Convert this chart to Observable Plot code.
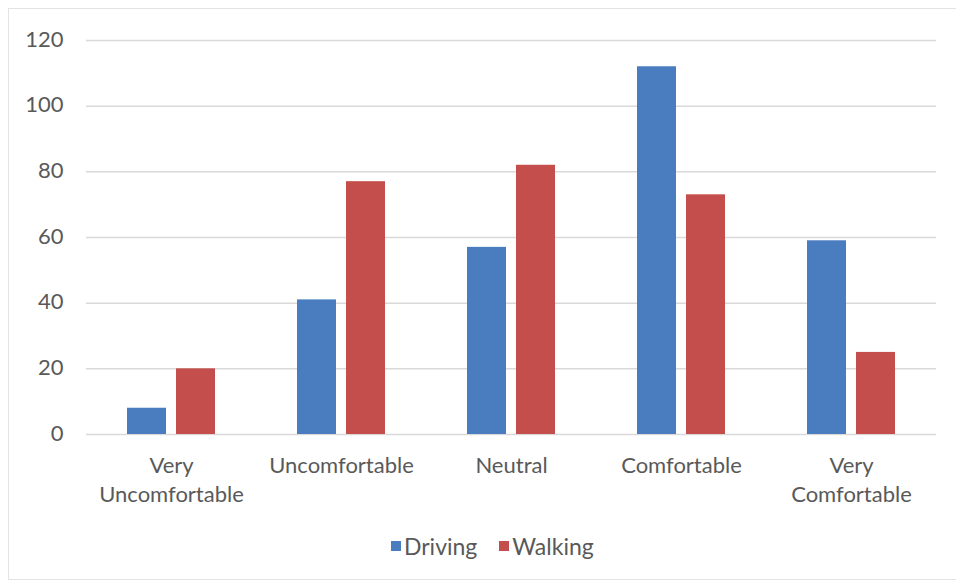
<!DOCTYPE html>
<html>
<head>
<meta charset="utf-8">
<script src="https://cdn.jsdelivr.net/npm/d3@7"></script>
<script src="https://cdn.jsdelivr.net/npm/@observablehq/plot@0.6"></script>
<style>
  html, body { margin: 0; padding: 0; background: #fff; }
  #frame {
    position: absolute; left: 8px; top: 8px; width: 948px; height: 572px;
    border: 1px solid #e3e3e3; border-right: none; box-sizing: border-box;
  }
  #chart { position: absolute; left: 0; top: 0; }
  #legend {
    position: absolute; left: 391px; top: 532px;
    font-family: Lato, "Open Sans", sans-serif; font-size: 23px; color: #595959;
    display: flex; align-items: center; white-space: nowrap;
  }
  #legend .sw { display: inline-block; width: 10px; height: 10px; margin-right: 3px; }
  #legend .item { display: flex; align-items: center; margin-right: 22px; }
</style>
</head>
<body>
<div id="frame"></div>
<div id="chart"></div>
<div id="legend"></div>
<script>
// Comfort ratings by travel mode
const categories = ["Very\nUncomfortable", "Uncomfortable", "Neutral", "Comfortable", "Very\nComfortable"];
const series = ["Driving", "Walking"];
const driving = [8, 41, 57, 112, 59];
const walking = [20, 77, 82, 73, 25];
const yTicks = [0, 20, 40, 60, 80, 100, 120];
const colors = ["#4a7dc0", "#c34e4b"];

const rows = categories.flatMap((c, i) => [
  {category: c, mode: series[0], value: driving[i]},
  {category: c, mode: series[1], value: walking[i]}
]);

const font = "Lato, 'Open Sans', sans-serif";

const chart = Plot.plot({
  width: 959,
  height: 520,
  marginLeft: 85,
  marginRight: 22,
  marginTop: 40,
  marginBottom: 86,
  style: {fontFamily: font, fontSize: "22px", color: "#595959", background: "transparent"},
  fx: {domain: categories, padding: 0, label: null},
  x: {domain: series, paddingInner: 0.21, paddingOuter: 0.83, axis: null},
  y: {domain: [0, 120], label: null},
  color: {domain: series, range: colors},
  marks: [
    Plot.gridY(yTicks, {stroke: "#d9d9d9", strokeOpacity: 1, strokeWidth: 1.5}),
    Plot.axisY(yTicks, {tickSize: 0, tickPadding: 23, dy: -1, fill: "#595959", fontSize: 22, label: null}),
    Plot.axisFx({anchor: "bottom", tickSize: 0, tickPadding: 18, lineHeight: 1.32, fill: "#595959", fontSize: 22, label: null}),
    Plot.barY(rows, {fx: "category", x: "mode", y: "value", fill: "mode"})
  ]
});
document.getElementById("chart").append(chart);

const legend = document.getElementById("legend");
series.forEach((s, i) => {
  const item = document.createElement("span");
  item.className = "item";
  const sw = document.createElement("span");
  sw.className = "sw";
  sw.style.background = colors[i];
  item.append(sw, document.createTextNode(s));
  legend.append(item);
});
</script>
</body>
</html>
